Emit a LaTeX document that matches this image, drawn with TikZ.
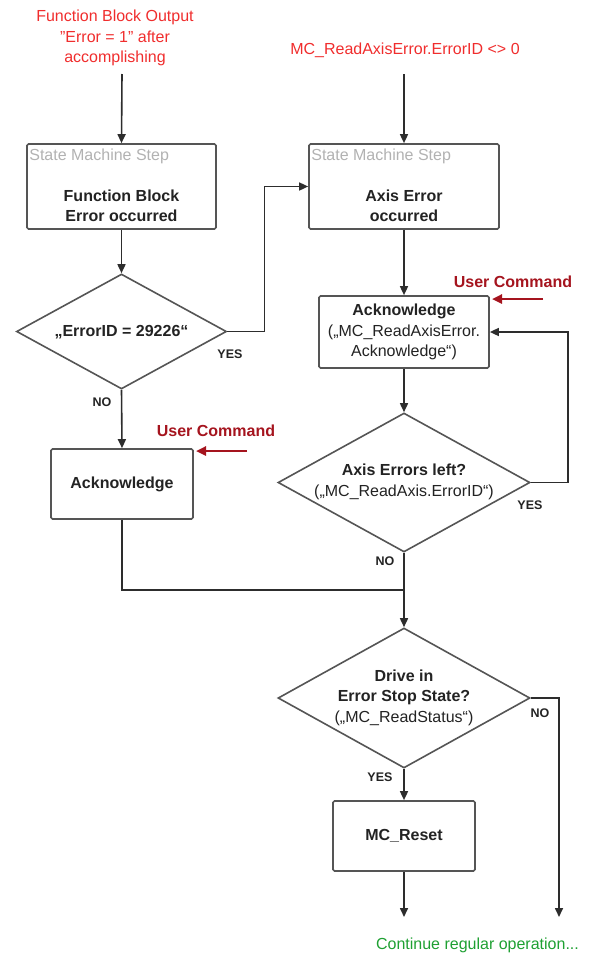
\documentclass[tikz,border=0pt]{standalone}
\usepackage{fontspec}
\setmainfont{Liberation Sans}
\usetikzlibrary{shapes.geometric,arrows.meta}
\definecolor{redtxt}{RGB}{240,45,45}
\definecolor{darkred}{RGB}{165,20,30}
\definecolor{greentxt}{RGB}{30,160,50}
\definecolor{graytxt}{RGB}{178,178,178}
\definecolor{txt}{RGB}{35,35,35}
\definecolor{linec}{RGB}{45,45,45}
\definecolor{boxc}{RGB}{85,85,85}
\newcommand\fsmain{\fontsize{16}{20.5}\selectfont}
\newcommand\fssmall{\fontsize{12.5}{15}\selectfont\bfseries}
\begin{document}
\begin{tikzpicture}[x=1pt,y=1pt,
  flow/.style={draw=linec, line width=1.6pt},
  arr/.style={flow, -{Triangle[length=9pt,width=8pt]}},
  userarr/.style={draw=darkred, line width=2.4pt, -{Triangle[length=10pt,width=9pt]}},
  box/.style={draw=boxc, line width=1.7pt, rounded corners=1.5pt, fill=white, inner sep=0pt, align=center, font=\fsmain, text=txt},
  dec/.style={diamond, draw=boxc, line width=1.6pt, inner sep=0pt, fill=white},
  dtext/.style={align=center, font=\fsmain, text=txt, inner sep=0pt},
  yn/.style={font=\fssmall, text=txt, inner sep=0pt},
  smlbl/.style={font=\fsmain, text=graytxt, inner sep=0pt, anchor=north west, xshift=3pt, yshift=-6pt},
  redlbl/.style={font=\fsmain, text=redtxt, align=center, inner sep=0pt},
  userlbl/.style={font=\fsmain\bfseries, text=darkred, inner sep=0pt},
  greenlbl/.style={font=\fsmain, text=greentxt, inner sep=0pt}
]
\useasboundingbox (0,0) rectangle (614,-956);

% top texts
\node[redlbl] (t1) at (115,-38) {Function Block Output\\\textquotedblright Error = 1\textquotedblright{} after\\accomplishing};
\node[redlbl] (t2) at (405,-50) {MC\_ReadAxisError.ErrorID <> 0};
\coordinate (c1) at (122,-74);
\coordinate (c2) at (404,-74);

% state boxes
\node[box, minimum width=189pt, minimum height=85pt,
  label={[smlbl]north west:State Machine Step}] (s1) at (121.5,-186.5) {};
\node[dtext, font=\fsmain\bfseries] (s1t) at (121.5,-206) {Function Block\\Error occurred};
\node[box, minimum width=190pt, minimum height=85pt,
  label={[smlbl]north west:State Machine Step}] (s2) at (404,-186.5) {};
\node[dtext, font=\fsmain\bfseries] (s2t) at (404,-206) {Axis Error\\occurred};

% decisions
\node[dec, minimum width=210pt, minimum height=115pt] (d1) at (121.5,-331.5) {};
\node[dtext, font=\fsmain\bfseries] (d1t) at (121.5,-332) {„ErrorID = 29226“};

\node[box, minimum width=142pt, minimum height=70pt, font=\fsmain\bfseries] (s3) at (122,-484) {Acknowledge};

\node[box, minimum width=170pt, minimum height=72pt] (s4) at (404,-332) {\textbf{Acknowledge}\\(„MC\_ReadAxisError.\\Acknowledge“)};

\node[dec, minimum width=252pt, minimum height=139pt] (d2) at (404,-482.5) {};
\node[dtext] (d2t) at (404,-482) {\textbf{Axis Errors left?}\\(„MC\_ReadAxis.ErrorID“)};

\node[dec, minimum width=252pt, minimum height=140pt] (d3) at (404,-698) {};
\node[dtext] (d3t) at (404,-697.5) {\textbf{Drive in}\\\textbf{Error Stop State?}\\(„MC\_ReadStatus“)};

\node[box, minimum width=142pt, minimum height=70pt, font=\fsmain\bfseries] (s5) at (404,-836) {MC\_Reset};

% user commands
\node[userlbl] (u1) at (216,-431) {User Command};
\coordinate (u1a) at (247,-451);
\coordinate (u1b) at (196,-451);
\node[userlbl] (u2) at (513,-282) {User Command};
\coordinate (u2a) at (543,-299);
\coordinate (u2b) at (492,-299);

% yes/no
\node[yn] (y1) at (230,-354) {YES};
\node[yn] (n1) at (102,-402) {NO};
\node[yn] (y2) at (530,-505) {YES};
\node[yn] (n2) at (385,-561) {NO};
\node[yn] (n3) at (540,-713) {NO};
\node[yn] (y3) at (380,-777) {YES};

% bottom
\coordinate (j1) at (404,-590);
\coordinate (e1) at (404,-917);
\coordinate (e2) at (559,-917);
\node[greenlbl] (g) at (477.5,-945) {Continue regular operation...};

% connectors
\draw[arr] (c1) -- (s1.north);
\draw[arr] (c2) -- (s2.north);
\draw[arr] (s1.south) -- (d1.north);
\draw[arr] (d1.east) -- ++(37,0) |- (s2.west);
\draw[arr] (d1.south) -- (s3.north);
\draw[arr] (s2.south) -- (s4.north);
\draw[arr] (s4.south) -- (d2.north);
\draw[arr] (d2.east) -- ++(37,0) |- (s4.east);
\draw[flow] (s3.south) |- (j1);
\draw[arr] (d2.south) -- (d3.north);
\draw[arr] (d3.south) -- (s5.north);
\draw[arr] (d3.east) -| (e2);
\draw[arr] (s5.south) -- (e1);
\draw[userarr] (u1a) -- (u1b);
\draw[userarr] (u2a) -- (u2b);
\end{tikzpicture}
\end{document}
